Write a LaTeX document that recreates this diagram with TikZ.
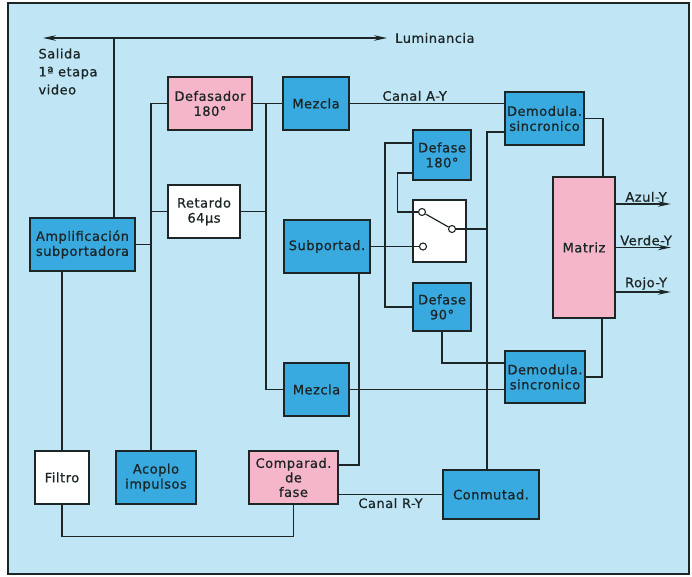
\documentclass[tikz,border=0pt]{standalone}
\usepackage{fontspec}
\setmainfont[LetterSpace=4, FakeBold=0.8]{DejaVu Sans}
\usetikzlibrary{arrows.meta}
\definecolor{fondo}{RGB}{192,230,246}
\definecolor{azul}{RGB}{56,170,224}
\definecolor{rosa}{RGB}{245,182,202}
\definecolor{trazo}{RGB}{28,38,38}
\tikzset{
  bloque/.style={draw=trazo, line width=1.6pt, align=center, inner sep=1pt, minimum height=53pt},
  bazul/.style={bloque, fill=azul},
  brosa/.style={bloque, fill=rosa},
  bblanco/.style={bloque, fill=white},
  linea/.style={draw=trazo, line width=1.2pt},
  contacto/.style={circle, draw=trazo, line width=1.1pt, fill=white, inner sep=0pt, minimum size=7pt},
  flecha/.style={linea, -{Stealth[length=13pt,width=5.5pt]}},
  flechas/.style={linea, {Stealth[length=13pt,width=5.5pt]}-{Stealth[length=13pt,width=5.5pt]}},
}
\begin{document}
\begin{tikzpicture}[x=1pt, y=-1pt, font=\fontsize{13}{15}\selectfont, text=trazo]
\useasboundingbox (0,0) rectangle (692,576);
\draw[fill=fondo, draw=trazo, line width=1.5pt] (8,3) rectangle (689,574);

% bloques
\node[brosa, minimum width=84pt] (defas) at (210,103.5) {Defasador\\180°};
\node[bazul, minimum width=66pt] (mezA) at (316,103.5) {Mezcla};
\node[bblanco, minimum width=72pt] (ret) at (204,211.5) {Retardo\\64µs};
\node[bazul, minimum width=105pt] (ampl) at (82.5,244.5) {Amplificación\\subportadora};
\node[bazul, minimum width=86pt] (subp) at (327,246.5) {Subportad.};
\node[bazul, minimum width=65pt] (mezB) at (316.5,389.5) {Mezcla};
\node[bblanco, minimum width=54pt] (filtro) at (62,477.5) {Filtro};
\node[bazul, minimum width=80pt] (acoplo) at (156,477.5) {Acoplo\\impulsos};
\node[brosa, minimum width=89pt, font=\fontsize{13}{14.5}\selectfont] (comp) at (293.5,477.5) {Comparad.\\de\\fase};
\node[bazul, minimum width=96pt, minimum height=49pt] (conm) at (491,494.5) {Conmutad.};
\node[bazul, minimum width=79pt] (demA) at (544.5,118.5) {Demodula.\\sincronico};
\node[bazul, minimum width=80pt, minimum height=52pt] (demB) at (545,377) {Demodula.\\sincronico};
\node[bazul, minimum width=58pt, minimum height=50pt] (def180) at (442,155) {Defase\\180°};
\node[bazul, minimum width=58pt, minimum height=48pt] (def90) at (442,307) {Defase\\90°};
\node[bblanco, minimum width=53pt, minimum height=62pt] (llave) at (439.5,231) {};
\node[brosa, minimum width=62pt, minimum height=141pt] (matriz) at (584,247.5) {Matriz};

% luminancia
\coordinate (lumI) at (43,38);
\coordinate (lumD) at (387,38);
\coordinate (lumJ) at (114,38);
\draw[flechas] (lumI) -- (lumD);
\node[anchor=west, inner sep=0pt] (lum) at ([xshift=8pt]lumD) {Luminancia};
\node[anchor=north west, align=left, font=\fontsize{13}{18}\selectfont] (salida) at (35,45) {Salida\\1ª etapa\\video};
\draw[linea] (lumJ) -- (lumJ |- ampl.north);

% entrada de crominancia
\coordinate (bi) at (151,103.5);
\draw[linea] (defas.west) -- (bi) -- (bi |- acoplo.north);
\draw[linea] (ret.west) -- (ret.west -| bi);
\draw[linea] (ampl.east) -- (ampl.east -| bi);
\coordinate (bd) at (266,103.5);
\draw[linea] (defas.east) -- (mezA.west);
\draw[linea] (bd) |- (mezB.west);
\draw[linea] (ret.east) -- (ret.east -| bd);
\draw[linea] (mezA.east) -- node[above, pos=0.42, inner sep=2pt] {Canal A-Y} (mezA.east -| demA.west);
\draw[linea] (mezB.east) -- (mezB.east -| demB.west);

% llave
\node[contacto] (ca) at (422,212) {};
\node[contacto] (cb) at (423,246.5) {};
\node[contacto] (cc) at (452,229) {};
\draw[linea] (ca) -- (cc);
\draw[linea] (subp.east) -- (cb);
\coordinate (bs) at (385,246.5);
\draw[linea] (bs) |- ([yshift=12pt]def180.west);
\draw[linea] (bs) |- (def90.west);
\draw[linea] ([yshift=-18pt]def180.west) -- ++(-15,0) |- (ca);
\coordinate (bc) at (487,132);
\draw[linea] (bc -| demA.west) -- (bc) -- (bc |- conm.north);
\draw[linea] (cc) -- (cc -| bc);
\draw[linea] (def90.south) |- ([yshift=14pt]demB.west);

% comparador
\coordinate (bp) at (359,0);
\draw[linea] ([yshift=12.5pt]comp.east) -| (subp.south -| bp);
\draw[linea] (comp.east |- conm.west) -- node[below, inner sep=3pt] {Canal R-Y} (conm.west);
\draw[linea] (filtro.north |- ampl.south) -- (filtro.north);
\draw[linea] (filtro.south) -- ++(0,31.5) -| (comp.south);

% matriz
\draw[linea] (demA.east) -| ([xshift=19pt]matriz.north);
\draw[linea] (demB.east) -| ([xshift=18pt]matriz.south);
\draw[flecha] ([yshift=43.5pt]matriz.east) -- ++(55,0) node[pos=0.55, above, inner sep=1.5pt] {Azul-Y};
\draw[flecha] (matriz.east) -- ++(55,0) node[pos=0.55, above, inner sep=1.5pt] {Verde-Y};
\draw[flecha] ([yshift=-44.5pt]matriz.east) -- ++(55,0) node[pos=0.55, above, inner sep=1.5pt] {Rojo-Y};
\end{tikzpicture}
\end{document}
